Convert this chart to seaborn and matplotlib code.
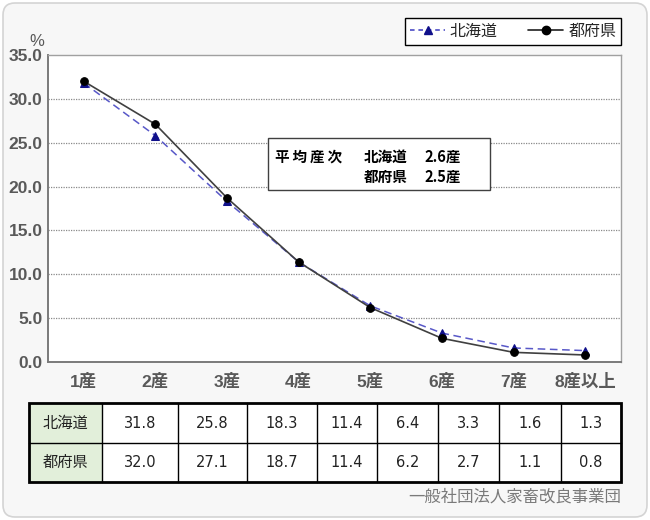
import matplotlib
matplotlib.use("Agg")
import matplotlib.pyplot as plt
import seaborn as sns
import pandas as pd
from matplotlib.patches import FancyBboxPatch, Rectangle
from matplotlib.lines import Line2D

# ---- data ----
categories = ["1産", "2産", "3産", "4産", "5産", "6産", "7産", "8産以上"]
hokkaido = [31.8, 25.8, 18.3, 11.4, 6.4, 3.3, 1.6, 1.3]
tofuken = [32.0, 27.1, 18.7, 11.4, 6.2, 2.7, 1.1, 0.8]
series_names = ["北海道", "都府県"]
avg_parity = ["2.6産", "2.5産"]
yticks = [0, 5, 10, 15, 20, 25, 30, 35]
source_text = "一般社団法人家畜改良事業団"

sns.set_theme(style="white")
plt.rcParams["font.family"] = ["Liberation Sans", "Noto Sans CJK JP", "DejaVu Sans"]
CJK = ["Noto Sans CJK JP", "DejaVu Sans"]

fig = plt.figure(figsize=(6.5, 5.2), dpi=100)
fig.patch.set_facecolor("white")

# background overlay (pixel coords)
bg = fig.add_axes([0, 0, 1, 1], zorder=0)
bg.set_xlim(0, 650); bg.set_ylim(520, 0); bg.axis("off")
bg.add_patch(FancyBboxPatch((3, 3), 644, 514, boxstyle="round,pad=0,rounding_size=12",
                            facecolor="#f7f7f7", edgecolor="#d4d4d4", linewidth=1.2))

# main axes
ax = fig.add_axes([48/650, 1-362/520, (621-48)/650, (362-55)/520], zorder=1)
ax.set_facecolor("white")

x = list(range(len(categories)))
df = pd.DataFrame({"x": x * 2, "y": hokkaido + tofuken,
                   "series": [series_names[0]] * 8 + [series_names[1]] * 8})

sns.lineplot(data=df[df.series == series_names[0]], x="x", y="y", ax=ax,
             color="#5858c8", linestyle=(0, (5, 3)), linewidth=1.1, marker="^",
             markersize=6, markerfacecolor="#10108a", markeredgecolor="#10108a",
             legend=False, zorder=3)
sns.lineplot(data=df[df.series == series_names[1]], x="x", y="y", ax=ax,
             color="#404040", linestyle="-", linewidth=1.2, marker="o",
             markersize=5.5, markerfacecolor="black", markeredgecolor="black",
             legend=False, zorder=4)

ax.set_xlim(-0.5, 7.5)
ax.set_ylim(0, 35)
ax.set_xlabel(""); ax.set_ylabel("")
ax.set_yticks(yticks)
ax.set_yticklabels([f"{v:.1f}" for v in yticks], fontsize=12.5, fontweight="bold",
                   color="#595959")
ax.tick_params(axis="y", length=0, pad=4)
ax.set_xticks([i + 0.5 for i in range(7)])
ax.set_xticklabels([])
ax.set_xticks(x, minor=True)
ax.set_xticklabels(categories, minor=True, fontsize=12.5, fontweight="bold",
                   color="#595959", family=["Liberation Sans"] + CJK)
ax.tick_params(axis="x", which="major", length=3, width=1, color="#555555", direction="out")
ax.tick_params(axis="x", which="minor", length=0, pad=8)
for yv in yticks[1:-1]:
    ax.axhline(yv, color="#8a8a8a", linestyle=(0, (1, 1)), linewidth=0.9, zorder=1)
for s in ["left", "bottom"]:
    ax.spines[s].set_color("#7a7a7a"); ax.spines[s].set_linewidth(1.4)
for s in ["top", "right"]:
    ax.spines[s].set_color("#a0a0a0"); ax.spines[s].set_linewidth(1.0)
ax.spines[["left", "bottom", "top", "right"]].set_visible(True)

# legend
handles = [Line2D([], [], color="#3a3ac0", linestyle=(0, (3, 2.5)), linewidth=1.1, marker="^",
                  markersize=6, markerfacecolor="#10108a", markeredgecolor="#10108a"),
           Line2D([], [], color="#202020", linewidth=1.2, marker="o", markersize=6,
                  markerfacecolor="black", markeredgecolor="black")]
leg = fig.legend(handles, series_names, loc="upper right", bbox_to_anchor=(621/650, 1-18/520),
                 ncol=2, frameon=True, fancybox=False, edgecolor="black", framealpha=1,
                 prop={"family": CJK, "size": 11.5}, handlelength=2.2, handletextpad=0.3,
                 columnspacing=1.9, borderpad=0.3, borderaxespad=0)
leg.get_frame().set_linewidth(1.0)

# top overlay (pixel coords)
ov = fig.add_axes([0, 0, 1, 1], zorder=3)
ov.set_xlim(0, 650); ov.set_ylim(520, 0); ov.axis("off"); ov.patch.set_alpha(0)

ov.text(37, 42, "%", fontsize=12, color="#595959", ha="center", va="center")

# annotation box
ov.add_patch(Rectangle((268, 138), 222, 52, facecolor="white", edgecolor="#404040", linewidth=1.0))
tkw = dict(fontsize=10.5, fontweight="bold", color="black", va="center", family=CJK)
ov.text(275, 157, " ".join("平均産次").replace(" ", "\u2009"), **tkw)
ov.text(364, 157, series_names[0], **tkw)
ov.text(424, 157, avg_parity[0], **tkw)
ov.text(364, 177, series_names[1], **tkw)
ov.text(424, 177, avg_parity[1], **tkw)

# data table
col_edges = [29, 102, 178, 247, 317, 377, 438, 499, 561, 621]
row_edges = [403, 443, 482]
rows = [hokkaido, tofuken]
for r in range(2):
    y0, y1 = row_edges[r], row_edges[r + 1]
    ov.add_patch(Rectangle((col_edges[0], y0), col_edges[1] - col_edges[0], y1 - y0,
                           facecolor="#e2efda", edgecolor="none"))
    ov.add_patch(Rectangle((col_edges[1], y0), col_edges[-1] - col_edges[1], y1 - y0,
                           facecolor="white", edgecolor="none"))
    ym = (y0 + y1) / 2
    ov.text((col_edges[0] + col_edges[1]) / 2, ym, series_names[r], ha="center", va="center",
            fontsize=11, color="#222222", family=CJK)
    for c, v in enumerate(rows[r]):
        xm = (col_edges[c + 1] + col_edges[c + 2]) / 2
        ov.text(xm, ym, f"{v:.1f}", ha="center", va="center", fontsize=10.5,
                color="#222222", family=["DejaVu Sans"])
for xe in col_edges[1:-1]:
    ov.plot([xe, xe], [row_edges[0], row_edges[-1]], color="black", linewidth=1.0)
ov.plot([col_edges[0], col_edges[-1]], [row_edges[1], row_edges[1]], color="black", linewidth=1.0)
ov.add_patch(Rectangle((col_edges[0], row_edges[0]), col_edges[-1] - col_edges[0],
                       row_edges[-1] - row_edges[0], facecolor="none", edgecolor="black",
                       linewidth=2.0))

ov.text(621, 497, source_text, ha="right", va="center", fontsize=11.8, color="#7a7a7a",
        family=CJK)

fig.savefig("out.png", dpi=100)
